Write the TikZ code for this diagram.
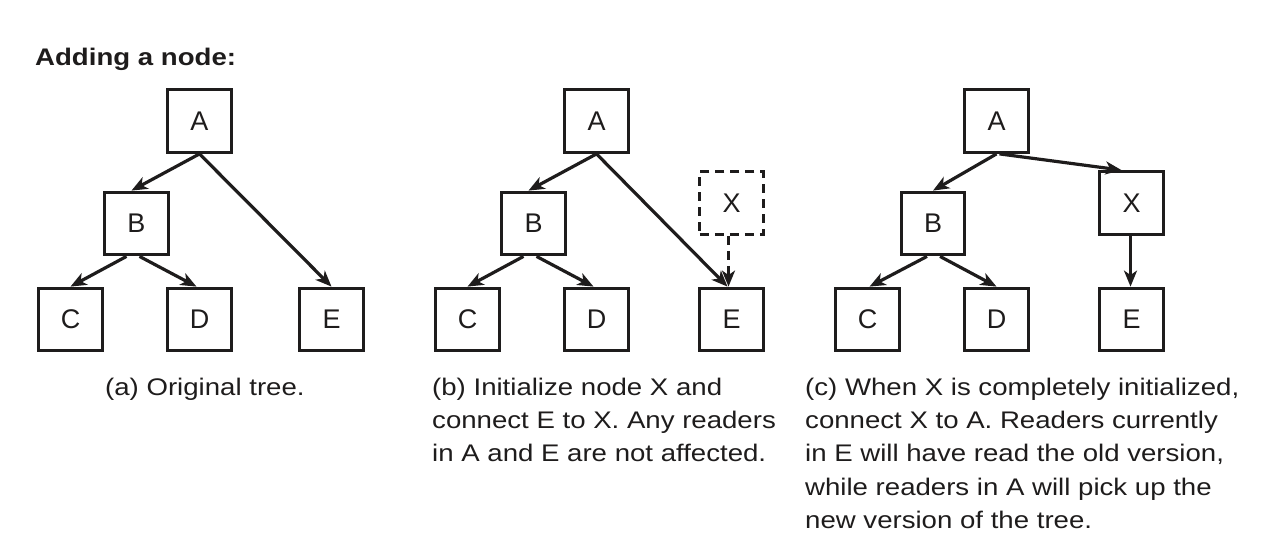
\documentclass[tikz,border=0pt]{standalone}
\usepackage{fontspec}
\setmainfont{Liberation Sans}
\newfontfamily\capfont[FakeStretch=1.15]{Liberation Sans}
\usetikzlibrary{arrows.meta}
\definecolor{ink}{RGB}{30,28,28}
\tikzset{
  treebox/.style={draw=ink, line width=3.3pt, minimum width=63.5pt, minimum height=62.5pt,
    inner sep=0pt, text=ink, font=\fontsize{27}{30}\selectfont},
  dashbox/.style={treebox, dash pattern=on 9pt off 6pt},
  link/.style={draw=ink, line width=3.2pt, -{Stealth[length=16pt,width=13pt,inset=4.5pt]}},
  dashlink/.style={link, dash pattern=on 9pt off 6pt},
  caption/.style={inner sep=0pt, align=left, font=\capfont\fontsize{24}{33.3}\selectfont, text=ink},
  title/.style={inner sep=0pt, font=\capfont\bfseries\fontsize{24}{30}\selectfont, text=ink}
}
\begin{document}
\begin{tikzpicture}[x=1pt,y=-1pt]
\useasboundingbox (0,0) rectangle (1268,552);
\node[title, anchor=base west] (title) at (35,65) {Adding a node:};
% panel (a)
\node[treebox] (aA) at (199.5,121) {A};
\node[treebox] (aB) at (136.5,223.5) {B};
\node[treebox] (aC) at (70.5,319.5) {C};
\node[treebox] (aD) at (199.5,319.5) {D};
\node[treebox] (aE) at (331.5,319.5) {E};
\draw[link] (aA.south) -- ([xshift=-5pt]aB.north);
\draw[link] (aA.south) -- (aE.north);
\draw[link] ([xshift=-10pt]aB.south) -- (aC.north);
\draw[link] ([xshift=3pt]aB.south) -- ([xshift=-3pt]aD.north);
\node[caption, anchor=base west] (capa) at (105,395) {(a) Original tree.};
% panel (b)
\node[treebox] (bA) at (596.5,121) {A};
\node[treebox] (bB) at (533.5,223.5) {B};
\node[treebox] (bC) at (467.5,319.5) {C};
\node[treebox] (bD) at (596.5,319.5) {D};
\node[treebox] (bE) at (731.5,319.5) {E};
\node[dashbox] (bX) at (731.5,203) {X};
\draw[link] (bA.south) -- ([xshift=-5pt]bB.north);
\draw[link] (bA.south) -- ([xshift=-4pt]bE.north);
\draw[link] ([xshift=-10pt]bB.south) -- (bC.north);
\draw[link] ([xshift=3pt]bB.south) -- ([xshift=-3pt]bD.north);
\draw[dashlink] ([xshift=-3pt]bX.south) -- ([xshift=-3pt]bE.north);
\node[caption, anchor=north west] (capb) at (432,377.5) {(b) Initialize node X and\\connect E to X. Any readers\\in A and E are not affected.};
% panel (c)
\node[treebox] (cA) at (996.5,121) {A};
\node[treebox] (cB) at (933,223.5) {B};
\node[treebox] (cC) at (867.5,319.5) {C};
\node[treebox] (cD) at (996.5,319.5) {D};
\node[treebox] (cX) at (1131.5,203) {X};
\node[treebox] (cE) at (1131.5,319.5) {E};
\draw[link] (cA.south) -- (cB.north);
\draw[link] ([xshift=3pt]cA.south) -- ([xshift=-10pt]cX.north);
\draw[link] ([xshift=-6pt]cB.south) -- ([xshift=2pt]cC.north);
\draw[link] ([xshift=7pt]cB.south) -- (cD.north);
\draw[link] ([xshift=-1pt]cX.south) -- ([xshift=-1pt]cE.north);
\node[caption, anchor=north west] (capc) at (805,377.5) {(c) When X is completely initialized,\\connect X to A. Readers currently\\in E will have read the old version,\\while readers in A will pick up the\\new version of the tree.};
\end{tikzpicture}
\end{document}
